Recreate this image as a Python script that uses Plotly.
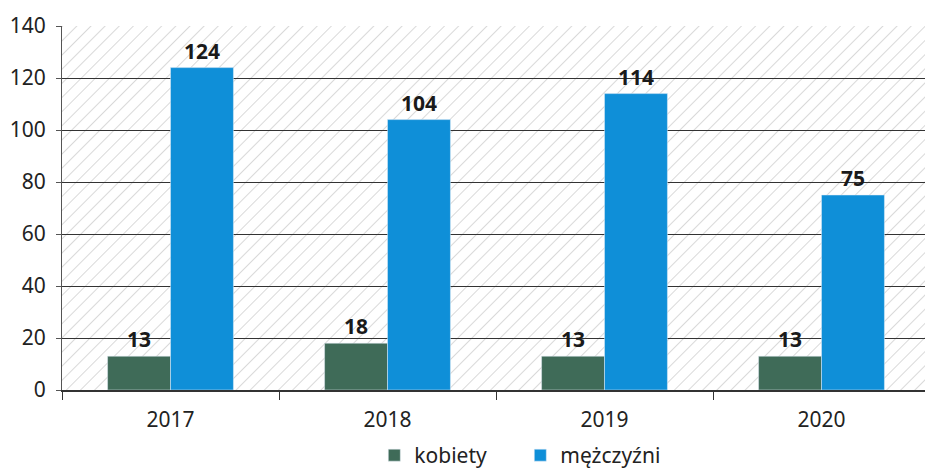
import base64
import plotly.graph_objects as go

lata = ['2017', '2018', '2019', '2020']
kobiety = [13, 18, 13, 13]
mezczyzni = [124, 104, 114, 75]

# tlo w ukosne paski (jak w oryginale)
svg = (
    "<svg xmlns='http://www.w3.org/2000/svg' width='868' height='364'>"
    "<defs><pattern id='h' width='10' height='10' patternUnits='userSpaceOnUse' "
    "patternTransform='rotate(45)'>"
    "<line x1='0' y1='0' x2='0' y2='10' stroke='#c9c9c9' stroke-width='1.4'/>"
    "</pattern></defs>"
    "<rect width='100%' height='100%' fill='url(#h)'/></svg>"
)
tlo = 'data:image/svg+xml;base64,' + base64.b64encode(svg.encode()).decode()

czcionka = 'Noto Sans'

fig = go.Figure()

fig.add_trace(go.Bar(
    x=lata,
    y=kobiety,
    name='kobiety',
    marker=dict(color='#3f6b58'),
    text=kobiety,
    textposition='outside',
    textfont=dict(size=21, color='#1a1a1a', family=czcionka, weight='bold'),
    cliponaxis=False
))

fig.add_trace(go.Bar(
    x=lata,
    y=mezczyzni,
    name='mężczyźni',
    marker=dict(color='#0f8fd8'),
    text=mezczyzni,
    textposition='outside',
    textfont=dict(size=21, color='#1a1a1a', family=czcionka, weight='bold'),
    cliponaxis=False
))

# strona ma 8px marginesu body, stad 925x462
fig.update_layout(
    width=925,
    height=462,
    barmode='group',
    bargap=0.42,
    bargroupgap=0,
    plot_bgcolor='rgba(0,0,0,0)',
    paper_bgcolor='white',
    font=dict(family=czcionka, color='#222222', size=20),
    images=[dict(
        source=tlo,
        xref='paper', yref='paper',
        x=0, y=1, sizex=1, sizey=1,
        sizing='stretch', layer='below'
    )],
    xaxis=dict(
        tickfont=dict(size=21, color='#222222'),
        showline=True,
        linecolor='#333333',
        linewidth=1.5,
        ticks='outside',
        tickson='boundaries',
        ticklen=8,
        tickcolor='#333333',
        ticklabelstandoff=10,
        showgrid=False,
        automargin=False
    ),
    yaxis=dict(
        range=[0, 140],
        dtick=20,
        tickfont=dict(size=21, color='#222222'),
        showline=True,
        linecolor='#555555',
        linewidth=1,
        ticks='outside',
        ticklen=5,
        tickcolor='#555555',
        ticklabelstandoff=6,
        showgrid=True,
        gridcolor='#333333',
        gridwidth=1.3,
        zeroline=False,
        automargin=False
    ),
    legend=dict(
        orientation='h',
        x=0.528, xanchor='center',
        y=-0.18, yanchor='middle',
        font=dict(size=21, color='#222222'),
        itemwidth=30,
        entrywidth=101,
        tracegroupgap=0
    ),
    showlegend=True,
    margin=dict(l=54, r=3, t=18, b=80, autoexpand=False)
)

fig.write_html("out.html")
